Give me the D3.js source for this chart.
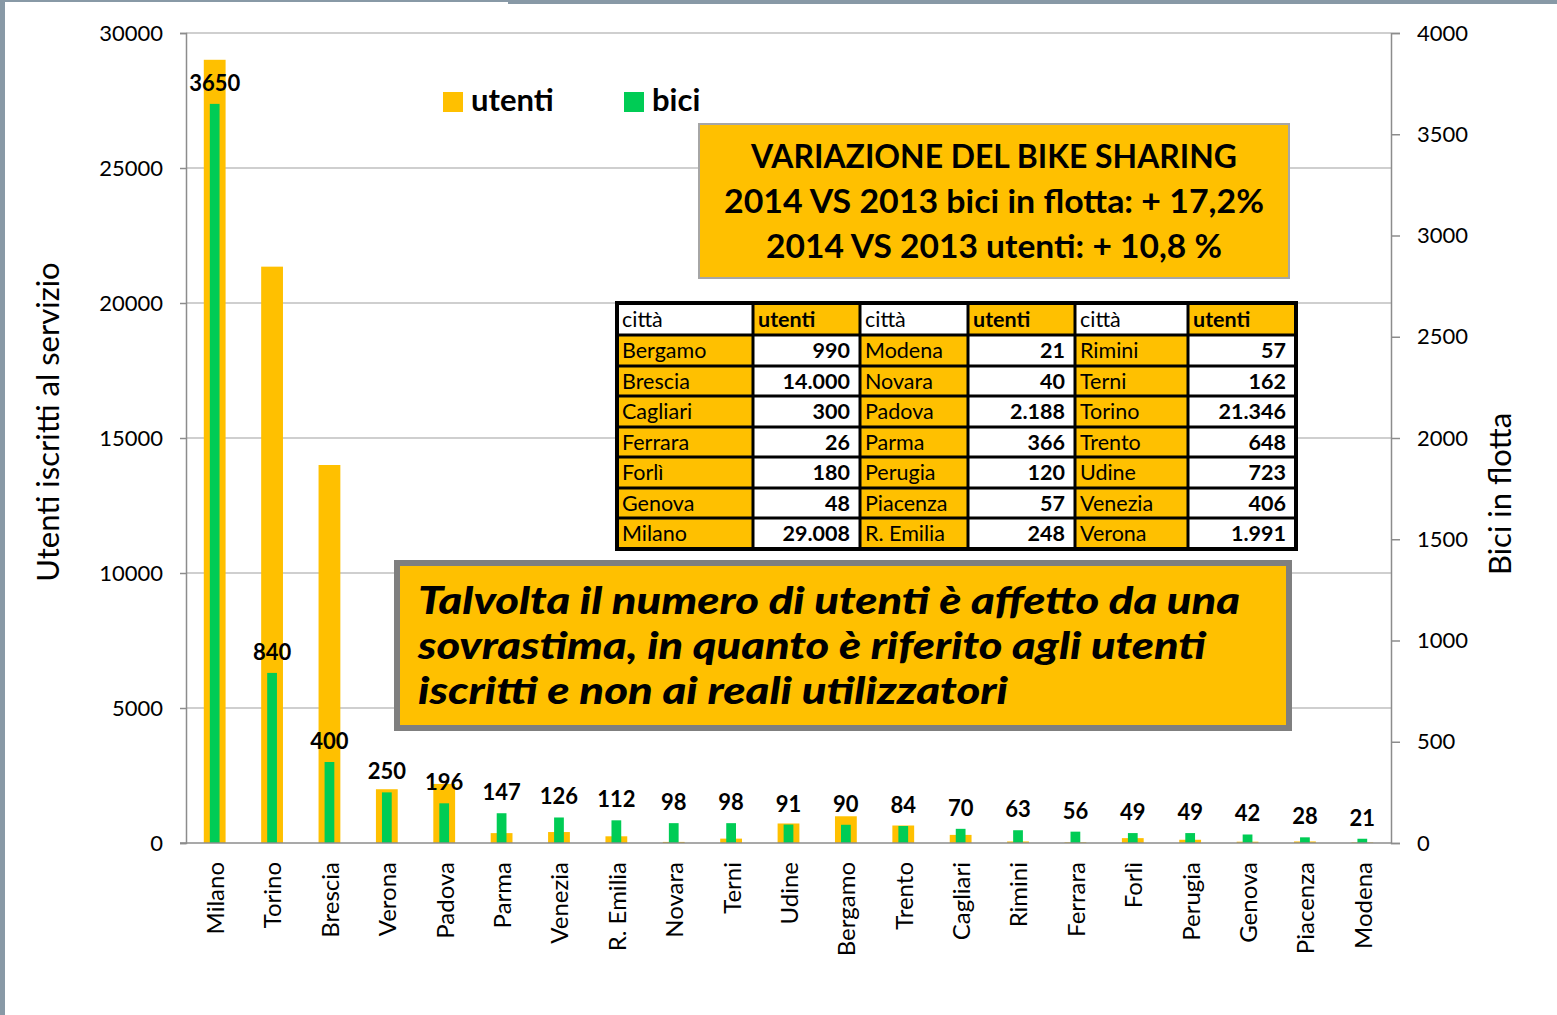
<!DOCTYPE html>
<html><head><meta charset="utf-8">
<script src="https://cdn.jsdelivr.net/npm/d3@7"></script>
<style>
body{margin:0;background:#fff;}
svg{display:block;}
text{font-family:Lato,"Open Sans",sans-serif;}
</style></head>
<body><svg id="c" width="1557" height="1015"></svg>
<script>
const cities = ["Milano","Torino","Brescia","Verona","Padova","Parma","Venezia","R. Emilia","Novara","Terni","Udine","Bergamo","Trento","Cagliari","Rimini","Ferrara","Forlì","Perugia","Genova","Piacenza","Modena"];
const utenti = [29008,21346,14000,1991,2188,366,406,248,40,162,723,990,648,300,57,26,180,120,48,57,21];
const bici = [3650,840,400,250,196,147,126,112,98,98,91,90,84,70,63,56,49,49,42,28,21];
const leftTicks = [0,5000,10000,15000,20000,25000,30000];
const rightTicks = [0,500,1000,1500,2000,2500,3000,3500,4000];
const legendLabels = ["utenti","bici"];
const titleLines = ["VARIAZIONE DEL BIKE SHARING","2014 VS 2013 bici in flotta: + 17,2%","2014 VS 2013 utenti: + 10,8 %"];
const noteLines = ["Talvolta il numero di utenti è affetto da una","sovrastima, in quanto è riferito agli utenti","iscritti e non ai reali utilizzatori"];
const tableHeader = ["città","utenti"];
const yTitleLeft = "Utenti iscritti al servizio";
const yTitleRight = "Bici in flotta";

const ORANGE="#FFC000", GREEN="#00CC55", GRID="#a0a0a0";
const svg = d3.select("#c");
// frame strips
svg.append("rect").attr("x",0).attr("y",0).attr("width",508).attr("height",2).attr("fill","#8899a6");
svg.append("rect").attr("x",508).attr("y",0).attr("width",1049).attr("height",4).attr("fill","#8899a6");
svg.append("rect").attr("x",0).attr("y",0).attr("width",5).attr("height",1015).attr("fill","#8899a6");

const X0=186, X1=1391, Y0=33, Y1=843;
const x = d3.scaleBand().domain(cities).range([X0,X1]).paddingInner(0).paddingOuter(0);
const yL = d3.scaleLinear().domain([0,30000]).range([Y1,Y0]);
const yR = d3.scaleLinear().domain([0,4000]).range([Y1,Y0]);

// gridlines
svg.append("g").selectAll("line").data(leftTicks.filter(d=>d>0)).join("line")
  .attr("x1",X0).attr("x2",X1).attr("y1",d=>yL(d)).attr("y2",d=>yL(d))
  .attr("stroke",GRID).attr("stroke-width",1.2);

// left axis
const gL = svg.append("g").attr("transform",`translate(${X0},0)`)
  .call(d3.axisLeft(yL).tickValues(leftTicks).tickSize(6).tickPadding(17).tickFormat(d3.format("d")));
gL.select(".domain").attr("stroke","#8c8c8c").attr("stroke-width",1.5);
gL.selectAll(".tick line").attr("stroke","#8c8c8c").attr("stroke-width",1.5);
gL.selectAll("text").attr("font-size",22).attr("fill","#000").style("font-family","Lato");

// right axis
const gR = svg.append("g").attr("transform",`translate(${X1},0)`)
  .call(d3.axisRight(yR).tickValues(rightTicks).tickSize(9).tickPadding(17).tickFormat(d3.format("d")));
gR.select(".domain").attr("stroke","#8c8c8c").attr("stroke-width",1.5);
gR.selectAll(".tick line").attr("stroke","#8c8c8c").attr("stroke-width",1.5);
gR.selectAll("text").attr("font-size",22).attr("fill","#000").style("font-family","Lato");

// bars
const bw = x.bandwidth();
const data = cities.map((c,i)=>({c,u:utenti[i],b:bici[i]}));
svg.append("g").selectAll("rect").data(data).join("rect")
  .attr("x",d=>x(d.c)+bw/2-bw*0.19).attr("width",bw*0.38)
  .attr("y",d=>yL(d.u)).attr("height",d=>Y1-yL(d.u)).attr("fill",ORANGE);
svg.append("g").selectAll("rect").data(data).join("rect")
  .attr("x",d=>x(d.c)+bw/2-bw*0.085).attr("width",bw*0.17)
  .attr("y",d=>yR(d.b)).attr("height",d=>Y1-yR(d.b)).attr("fill",GREEN);
// x baseline
svg.append("line").attr("x1",X0).attr("x2",X1).attr("y1",Y1).attr("y2",Y1).attr("stroke","#8c8c8c").attr("stroke-width",1.5);
svg.append("line").attr("x1",X0-6).attr("x2",X0).attr("y1",Y1).attr("y2",Y1).attr("stroke","#8c8c8c").attr("stroke-width",1.5);

// value labels
svg.append("g").selectAll("text").data(data).join("text")
  .attr("x",d=>x(d.c)+bw/2).attr("y",d=>yR(d.b)-13)
  .attr("text-anchor","middle").attr("font-size",22).attr("font-weight",700).text(d=>d.b);

// x labels
svg.append("g").selectAll("text").data(data).join("text")
  .attr("transform",d=>`translate(${x(d.c)+bw/2+1},862) rotate(-90)`)
  .attr("text-anchor","end").attr("dy","0.35em").attr("font-size",24).text(d=>d.c);

// axis titles
svg.append("text").attr("transform","translate(48,422) rotate(-90)").attr("text-anchor","middle")
  .attr("dy","0.35em").attr("font-size",31).text(yTitleLeft);
svg.append("text").attr("transform","translate(1500,494) rotate(-90)").attr("text-anchor","middle")
  .attr("dy","0.35em").attr("font-size",31).text(yTitleRight);

// legend
const legColors=[ORANGE,GREEN], legX=[443,624];
legendLabels.forEach((l,i)=>{
  svg.append("rect").attr("x",legX[i]).attr("y",92).attr("width",20).attr("height",20).attr("fill",legColors[i]);
  svg.append("text").attr("x",legX[i]+28).attr("y",111).attr("font-size",31).attr("font-weight",700).text(l);
});

// title box
svg.append("rect").attr("x",699).attr("y",124).attr("width",590).attr("height",154)
  .attr("fill",ORANGE).attr("stroke","#a6a6a6").attr("stroke-width",2);
const tW=[486,540,456], tY=[168,213,258];
titleLines.forEach((t,i)=>{
  svg.append("text").attr("x",994).attr("y",tY[i]).attr("text-anchor","middle")
    .attr("font-size",32).attr("font-weight",700).attr("textLength",tW[i]).attr("lengthAdjust","spacingAndGlyphs").text(t);
});

// table
const colX=[617,753,860,968,1075,1188,1296];
const rowY=[303,335,366,396,427,457,488,518,549];
const itFmt = d3.formatLocale({decimal:",",thousands:".",grouping:[3],currency:["€",""]}).format(",d");
const sorted = data.slice().sort((a,b)=>d3.ascending(a.c,b.c));
const tg = svg.append("g");
for(let col=0; col<3; col++){
  for(let r=0;r<8;r++){
    for(let k=0;k<2;k++){
      const cx=colX[col*2+k], cw=colX[col*2+k+1]-cx, cy=rowY[r], ch=rowY[r+1]-cy;
      const isHeader = r===0;
      const fill = isHeader ? (k===0?"#fff":ORANGE) : (k===0?ORANGE:"#fff");
      tg.append("rect").attr("x",cx).attr("y",cy).attr("width",cw).attr("height",ch).attr("fill",fill);
      let txt, bold=false, anchor="start", tx=cx+5;
      if(isHeader){ txt=tableHeader[k]; bold = k===1; }
      else {
        const d = sorted[col*7+r-1];
        if(k===0){ txt=d.c; }
        else { txt=itFmt(d.u); bold=true; anchor="end"; tx=cx+cw-10; }
      }
      tg.append("text").attr("x",tx).attr("y",cy+ch/2).attr("dy","0.36em").attr("text-anchor",anchor)
        .attr("font-size",21.5).attr("font-weight",bold?700:400).text(txt);
    }
  }
}
// table lines
rowY.forEach(y=>tg.append("line").attr("x1",617).attr("x2",1296).attr("y1",y).attr("y2",y).attr("stroke","#000").attr("stroke-width",3));
colX.forEach(xx=>tg.append("line").attr("x1",xx).attr("x2",xx).attr("y1",303).attr("y2",549).attr("stroke","#000").attr("stroke-width",3));
tg.append("rect").attr("x",617).attr("y",303).attr("width",679).attr("height",246).attr("fill","none").attr("stroke","#000").attr("stroke-width",4);

// note box
svg.append("rect").attr("x",397).attr("y",563).attr("width",892).attr("height",165)
  .attr("fill",ORANGE).attr("stroke","#7f7f7f").attr("stroke-width",6);
const nW=[822,788,590], nY=[614,659,704];
noteLines.forEach((t,i)=>{
  svg.append("text").attr("x",418).attr("y",nY[i]).attr("font-size",37).attr("font-weight",900).attr("font-style","italic")
    .attr("textLength",nW[i]).attr("lengthAdjust","spacingAndGlyphs").text(t);
});
</script></body></html>
